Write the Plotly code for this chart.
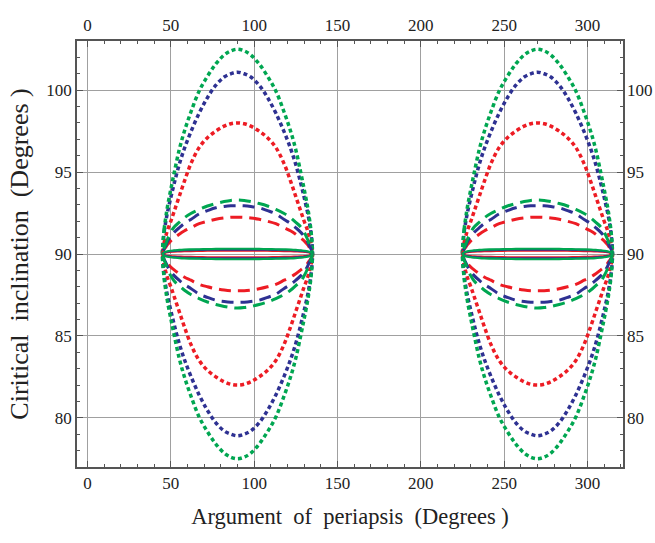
import plotly.graph_objects as go

# Half-lobe sample positions (degrees of argument of periapsis); lobes are mirror-symmetric about 90 and 270
X_HALF = [45, 46, 47, 48, 50, 52, 55, 58, 62, 67, 72, 77, 82, 86, 90]
LOBE_CENTERS = [90, 270]
I_CRIT = 90

# Deviation from 90 deg (upper = 90 + d, lower = 90 - d)
DOT_RED   = [0, 0.7, 1.1, 1.45, 2.0, 2.6, 3.5, 4.4, 5.5, 6.5, 7.1, 7.5, 7.8, 7.95, 8.0]
DOT_BLUE  = [0, 1.35, 2.0, 2.55, 3.45, 4.3, 5.45, 6.4, 7.45, 8.6, 9.55, 10.3, 10.8, 11.0, 11.1]
DOT_GREEN = [0, 1.5, 2.25, 2.9, 3.95, 4.95, 6.35, 7.45, 8.65, 9.95, 10.85, 11.6, 12.15, 12.4, 12.5]

DASH_RED   = [0, 0.28, 0.42, 0.57, 0.8, 0.97, 1.2, 1.4, 1.6, 1.85, 2.0, 2.12, 2.2, 2.24, 2.25]
DASH_BLUE  = [0, 0.33, 0.52, 0.76, 1.07, 1.32, 1.6, 1.85, 2.1, 2.45, 2.65, 2.82, 2.9, 2.94, 2.95]
DASH_GREEN = [0, 0.38, 0.62, 0.9, 1.33, 1.65, 1.93, 2.2, 2.47, 2.72, 2.93, 3.08, 3.2, 3.27, 3.3]

SOLID_RED   = [0, 0.06, 0.09, 0.11, 0.13, 0.15, 0.16, 0.17, 0.18, 0.19, 0.2, 0.2, 0.2, 0.2, 0.2]
SOLID_BLUE  = [0, 0.08, 0.12, 0.14, 0.17, 0.19, 0.21, 0.23, 0.24, 0.25, 0.26, 0.27, 0.27, 0.27, 0.27]
SOLID_GREEN = [0, 0.1, 0.14, 0.17, 0.2, 0.22, 0.25, 0.27, 0.28, 0.29, 0.3, 0.31, 0.32, 0.32, 0.32]

X_TICKS = [0, 50, 100, 150, 200, 250, 300]
Y_TICKS = [80, 85, 90, 95, 100]

RED, BLUE, GREEN = "#ED1C24", "#2E3192", "#00A651"
DOT = "4px,3px"
DASH = "12px,7px"

series = [
    (DOT_RED, RED, DOT, 3.5), (DOT_BLUE, BLUE, DOT, 3.5), (DOT_GREEN, GREEN, DOT, 3.5),
    (DASH_RED, RED, DASH, 3), (DASH_BLUE, BLUE, DASH, 3), (DASH_GREEN, GREEN, DASH, 3),
    (SOLID_RED, RED, "solid", 2.2), (SOLID_BLUE, BLUE, "solid", 2.2), (SOLID_GREEN, GREEN, "solid", 2.2),
]


def closed_lobe(center, dev):
    offs = [x - 90 for x in X_HALF]
    full_off = offs + [-o for o in reversed(offs[:-1])]
    full_dev = dev + list(reversed(dev[:-1]))
    xs_up = [center + o for o in full_off]
    ys_up = [I_CRIT + d for d in full_dev]
    xs_lo = list(reversed(xs_up))
    ys_lo = [I_CRIT - d for d in reversed(full_dev)]
    return xs_up + xs_lo[1:], ys_up + ys_lo[1:]


fig = go.Figure()
for dev, color, dash, w in series:
    for c in LOBE_CENTERS:
        xs, ys = closed_lobe(c, dev)
        fig.add_trace(go.Scatter(
            x=xs, y=ys, mode="lines",
            line=dict(color=color, width=w, dash=dash, shape="spline", smoothing=1.0),
            showlegend=False, hoverinfo="skip"))

# dummy trace to activate the top/right mirror axes
fig.add_trace(go.Scatter(x=[None], y=[None], xaxis="x2", yaxis="y2",
                         showlegend=False, hoverinfo="skip"))

FONT = "Liberation Serif"
AX = "#555555"
XR = [-6.3, 321.3]
YR = [77, 103]
TF = dict(size=17, family=FONT, color="#222")

fig.update_layout(
    width=655, height=543,
    margin=dict(l=77, r=32, t=41, b=76),
    plot_bgcolor="white", paper_bgcolor="white",
    font=dict(family=FONT, size=17, color="#222"),
    xaxis=dict(
        range=XR, tickvals=X_TICKS, ticks="inside", ticklen=6, tickcolor=AX,
        showline=True, linecolor=AX, linewidth=1.5, mirror="ticks", automargin=False,
        showgrid=True, gridcolor="#A0A0A0", gridwidth=1, zeroline=False,
        minor=dict(dtick=10, tick0=0, ticks="inside", ticklen=3, tickcolor=AX, showgrid=False),
        title=dict(text="Argument  of  periapsis  (Degrees )", font=dict(size=22.5, family=FONT, color="#222"), standoff=16),
        tickfont=TF,
    ),
    yaxis=dict(
        range=YR, tickvals=Y_TICKS, ticks="inside", ticklen=6, tickcolor=AX,
        showline=True, linecolor=AX, linewidth=1.5, mirror="ticks", automargin=False,
        showgrid=True, gridcolor="#A0A0A0", gridwidth=1, zeroline=False,
        minor=dict(dtick=1, tick0=0, ticks="inside", ticklen=3, tickcolor=AX, showgrid=False),
        title=dict(text="Ciritical  inclination  (Degrees )\u00a0\u00a0\u00a0",
                   font=dict(size=26, family=FONT, color="#222"), standoff=10),
        tickfont=TF,
    ),
    xaxis2=dict(range=XR, overlaying="x", side="top", tickvals=X_TICKS, ticks="",
                showgrid=False, zeroline=False, showline=False, tickfont=TF,
                ticklabelstandoff=6, automargin=False),
    yaxis2=dict(range=YR, overlaying="y", side="right", tickvals=Y_TICKS, ticks="",
                showgrid=False, zeroline=False, showline=False, tickfont=TF,
                ticklabelstandoff=3, automargin=False),
)

fig.write_html("out.html")
